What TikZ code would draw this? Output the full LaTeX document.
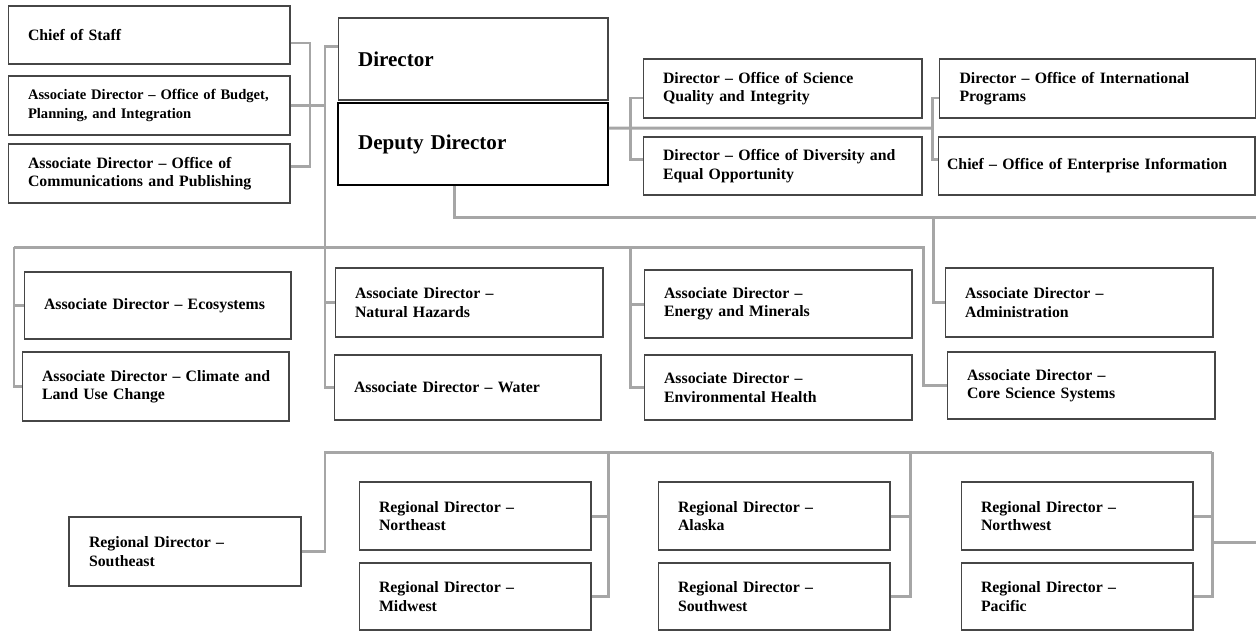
\documentclass[tikz,border=0pt]{standalone}
\usepackage{fontspec}
\setmainfont{Liberation Serif}
\definecolor{linkGray}{RGB}{166,166,166}
\definecolor{boxEdge}{RGB}{70,70,70}
\tikzset{
  office/.style={draw=boxEdge, line width=0.6pt, fill=white, inner xsep=0.4cm, align=left,
    font=\bfseries\fontsize{9}{10.5}\selectfont},
  head/.style={office, font=\bfseries\fontsize{12}{14}\selectfont},
  link/.style={draw=linkGray, line width=1.7pt},
}

\begin{document}
\begin{tikzpicture}[x=0.02cm, y=-0.02cm]
    \useasboundingbox (0,0) rectangle (1256,633);

    % Staff offices
    \node[office, text width=4.84cm, minimum height=1.16cm] (cos) at (149,35) {Chief of Staff};
    \node[office, font=\bfseries\fontsize{8.3}{10.5}\selectfont, text width=4.84cm, minimum height=1.18cm] (obpi) at (149,105.5)
        {Associate Director -- Office of Budget,\\Planning, and Integration};
    \node[office, text width=4.84cm, minimum height=1.18cm] (ocp) at (149,173.5)
        {Associate Director -- Office of\\Communications and Publishing};

    % Director and deputy
    \node[head, text width=4.6cm, minimum height=1.64cm] (dir) at (473,59) {Director};
    \node[head, draw=black, line width=0.9pt, text width=4.6cm, minimum height=1.64cm] (dep) at (473,144) {Deputy Director};

    % Offices under the deputy
    \node[office, text width=4.78cm, minimum height=1.18cm] (osqi) at (782.5,88.5)
        {Director -- Office of Science\\Quality and Integrity};
    \node[office, text width=4.78cm, minimum height=1.16cm] (odeo) at (782.5,166)
        {\mbox{Director -- Office of Diversity and}\\Equal Opportunity};
    \node[office, text width=5.52cm, minimum height=1.18cm] (oip) at (1097.5,88.5)
        {Director -- Office of International\\Programs};
    \node[office, inner xsep=0.18cm, text width=5.98cm, minimum height=1.16cm] (oei) at (1096.5,166)
        {Chief -- Office of Enterprise Information};

    % Associate directors
    \node[office, text width=4.54cm, minimum height=1.34cm] (eco) at (157.5,305.5) {Associate Director -- Ecosystems};
    \node[office, text width=4.54cm, minimum height=1.38cm] (clim) at (155.5,386.5)
        {\mbox{Associate Director -- Climate and}\\Land Use Change};
    \node[office, text width=4.56cm, minimum height=1.38cm] (nh) at (469,302.5) {Associate Director --\\Natural Hazards};
    \node[office, text width=4.54cm, minimum height=1.30cm] (wat) at (467.5,387.5) {Associate Director -- Water};
    \node[office, text width=4.56cm, minimum height=1.36cm] (em) at (778,304) {Associate Director --\\Energy and Minerals};
    \node[office, text width=4.56cm, minimum height=1.30cm] (eh) at (778,387.5) {Associate Director --\\Environmental Health};
    \node[office, text width=4.56cm, minimum height=1.38cm] (adm) at (1079,302.5) {Associate Director --\\Administration};
    \node[office, text width=4.56cm, minimum height=1.34cm] (css) at (1081,385.5) {Associate Director --\\Core Science Systems};

    % Regional directors
    \node[office, text width=3.84cm, minimum height=1.38cm] (se) at (185,551.5) {Regional Director --\\Southeast};
    \node[office, text width=3.84cm, minimum height=1.36cm] (ne) at (475,516) {Regional Director --\\Northeast};
    \node[office, text width=3.84cm, minimum height=1.34cm] (mw) at (475,596.5) {Regional Director --\\Midwest};
    \node[office, text width=3.84cm, minimum height=1.36cm] (ak) at (774,516) {Regional Director --\\Alaska};
    \node[office, text width=3.84cm, minimum height=1.34cm] (sw) at (774,596.5) {Regional Director --\\Southwest};
    \node[office, text width=3.84cm, minimum height=1.36cm] (nw) at (1077,516) {Regional Director --\\Northwest};
    \node[office, text width=3.84cm, minimum height=1.34cm] (pac) at (1077,596.5) {Regional Director --\\Pacific};

    % Bus points
    \coordinate (staffbus) at (310,106);
    \coordinate (trunk) at (325,247);
    \coordinate (assocL) at (14,247);
    \coordinate (assocM) at (630,247);
    \coordinate (assocR) at (923,247);
    \coordinate (offL) at (630,128);
    \coordinate (offR) at (932,128);
    \coordinate (admbus) at (933,217);
    \coordinate (depout) at (1256,217);
    \coordinate (regL) at (325,452);
    \coordinate (regA) at (608,452);
    \coordinate (regB) at (910,452);
    \coordinate (regR) at (1212,452);
    \coordinate (regout) at (1256,542);

    % Staff links
    \draw[link] ([yshift=-0.16cm]cos.east) -| (staffbus) |- ([yshift=0.15cm]ocp.east);
    \draw[link] (obpi.east) -- (obpi.east -| trunk);
    \draw[link] ([yshift=0.26cm]dir.west) -| (trunk);

    % Deputy links
    \draw[link] ([yshift=0.32cm]dep.east) -- (offR);
    \draw[link] ([yshift=-0.19cm]osqi.west) -| (offL) |- ([yshift=0.14cm]odeo.west);
    \draw[link] ([yshift=-0.19cm]oip.west) -| (offR) |- ([yshift=0.14cm]oei.west);
    \draw[link] ([xshift=-0.38cm]dep.south) |- (depout);
    \draw[link] (admbus) |- (adm.west);

    % Associate links
    \draw[link] (assocL) -- (assocR) |- (css.west);
    \foreach \a/\b/\c in {eco/clim/assocL, nh/wat/trunk, em/eh/assocM} {
        \draw[link] (\a.west) -| (\c) |- (\b.west);
    }

    % Regional links
    \draw[link] (se.east) -| (regL) -- (regR);
    \foreach \a/\b/\c in {ne/mw/regA, ak/sw/regB, nw/pac/regR} {
        \draw[link] (\a.east) -| (\c) |- (\b.east);
    }
    \draw[link] (regout) -- (regout -| regR);

\end{tikzpicture}
\end{document}
